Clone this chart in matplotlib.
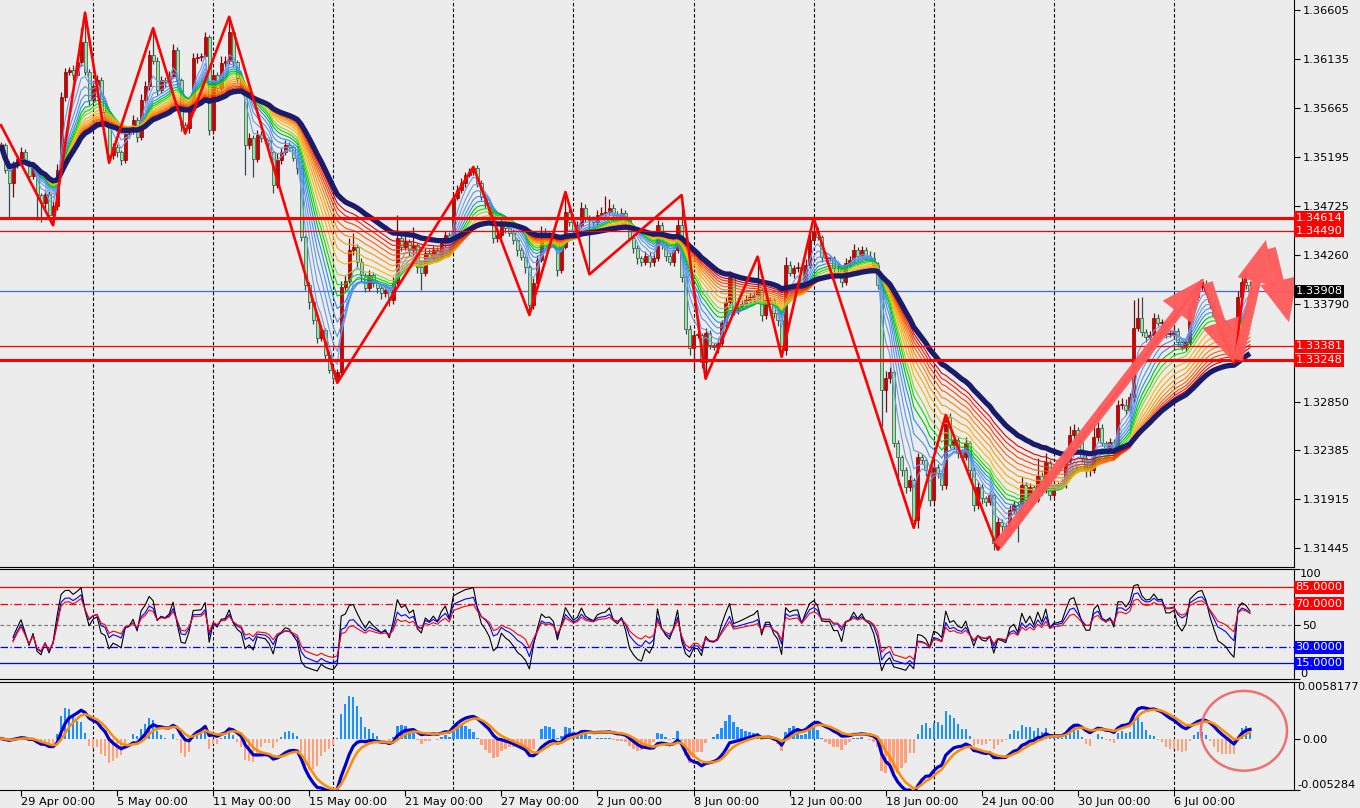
import numpy as np
import pandas as pd
import matplotlib
matplotlib.use("Agg")
import matplotlib.pyplot as plt
from matplotlib.patches import FancyArrowPatch, Ellipse

# H4 closes, 12 candles (2 days) per row
closes = [
    1.3531, 1.3507, 1.3495, 1.3512, 1.3518, 1.3524, 1.3515, 1.3501, 1.3509, 1.3483, 1.3475, 1.3484,
    1.3464, 1.3473, 1.3507, 1.3577, 1.3601, 1.3603, 1.3598, 1.3611, 1.3630, 1.3601, 1.3574, 1.3588,
    1.3593, 1.3563, 1.3558, 1.3521, 1.3529, 1.3524, 1.3517, 1.3542, 1.3545, 1.3555, 1.3539, 1.3574,
    1.3588, 1.3617, 1.3612, 1.3584, 1.3593, 1.3591, 1.3597, 1.3622, 1.3593, 1.3550, 1.3547, 1.3565,
    1.3614, 1.3615, 1.3616, 1.3635, 1.3545, 1.3598, 1.3586, 1.3610, 1.3612, 1.3639, 1.3611, 1.3595,
    1.3586, 1.3531, 1.3538, 1.3518, 1.3541, 1.3538, 1.3536, 1.3524, 1.3493, 1.3517, 1.3524, 1.3531,
    1.3529, 1.3519, 1.3509, 1.3443, 1.3397, 1.3380, 1.3363, 1.3346, 1.3354, 1.3330, 1.3315, 1.3308,
    1.3313, 1.3395, 1.3401, 1.3430, 1.3433, 1.3419, 1.3406, 1.3394, 1.3406, 1.3399, 1.3394, 1.3389,
    1.3392, 1.3382, 1.3399, 1.3442, 1.3433, 1.3438, 1.3430, 1.3435, 1.3414, 1.3408, 1.3427, 1.3423,
    1.3430, 1.3425, 1.3437, 1.3445, 1.3435, 1.3480, 1.3488, 1.3495, 1.3502, 1.3505, 1.3509, 1.3495,
    1.3481, 1.3475, 1.3466, 1.3442, 1.3445, 1.3457, 1.3451, 1.3447, 1.3440, 1.3430, 1.3424, 1.3414,
    1.3378, 1.3399, 1.3421, 1.3447, 1.3442, 1.3443, 1.3438, 1.3411, 1.3433, 1.3467, 1.3457, 1.3449,
    1.3454, 1.3471, 1.3462, 1.3459, 1.3457, 1.3464, 1.3466, 1.3467, 1.3471, 1.3464, 1.3462, 1.3466,
    1.3459, 1.3442, 1.3432, 1.3423, 1.3419, 1.3425, 1.3419, 1.3423, 1.3454, 1.3435, 1.3425, 1.3419,
    1.3430, 1.3454, 1.3404, 1.3355, 1.3336, 1.3349, 1.3349, 1.3323, 1.3351, 1.3339, 1.3337, 1.3341,
    1.3360, 1.3380, 1.3404, 1.3373, 1.3376, 1.3379, 1.3382, 1.3385, 1.3387, 1.3392, 1.3368, 1.3382,
    1.3382, 1.3370, 1.3363, 1.3334, 1.3416, 1.3408, 1.3413, 1.3414, 1.3395, 1.3416, 1.3440, 1.3449,
    1.3443, 1.3424, 1.3423, 1.3423, 1.3413, 1.3413, 1.3400, 1.3418, 1.3421, 1.3430, 1.3425, 1.3430,
    1.3425, 1.3423, 1.3416, 1.3397, 1.3296, 1.3308, 1.3313, 1.3245, 1.3232, 1.3219, 1.3203, 1.3210,
    1.3171, 1.3232, 1.3229, 1.3219, 1.3191, 1.3222, 1.3216, 1.3205, 1.3270, 1.3243, 1.3248, 1.3236,
    1.3232, 1.3245, 1.3219, 1.3186, 1.3203, 1.3192, 1.3189, 1.3195, 1.3149, 1.3169, 1.3166, 1.3161,
    1.3181, 1.3186, 1.3174, 1.3205, 1.3191, 1.3203, 1.3191, 1.3214, 1.3200, 1.3227, 1.3195, 1.3204,
    1.3205, 1.3207, 1.3227, 1.3253, 1.3258, 1.3246, 1.3231, 1.3219, 1.3219, 1.3251, 1.3260, 1.3245,
    1.3240, 1.3246, 1.3236, 1.3282, 1.3282, 1.3277, 1.3289, 1.3356, 1.3365, 1.3352, 1.3347, 1.3349,
    1.3365, 1.3360, 1.3361, 1.3350, 1.3350, 1.3353, 1.3342, 1.3337, 1.3342, 1.3375, 1.3385, 1.3395,
    1.3398, 1.3392, 1.3380, 1.3368, 1.3353, 1.3349, 1.3344, 1.3334, 1.3325, 1.3385, 1.3400, 1.3397,
    1.33908,
]
first_open = 1.3527

# wick lengths in pips above / below the body
wick_up = [
    3, 2, 3, 4, 3, 5, 3, 2, 4, 3, 2, 4,
    3, 4, 6, 5, 4, 3, 5, 4, 13, 28, 3, 4,
    5, 3, 4, 3, 4, 3, 2, 6, 4, 5, 3, 6,
    4, 5, 26, 3, 4, 3, 5, 6, 3, 2, 3, 4,
    5, 4, 3, 4, 2, 5, 3, 6, 4, 15, 3, 2,
    3, 2, 5, 3, 4, 3, 2, 3, 2, 6, 4, 5,
    3, 2, 2, 3, 2, 3, 2, 3, 4, 2, 3, 2,
    3, 6, 5, 12, 14, 3, 4, 2, 5, 3, 2, 3,
    4, 2, 5, 22, 3, 6, 3, 17, 2, 3, 5, 4,
    4, 3, 5, 4, 3, 6, 5, 4, 3, 4, 2, 3,
    2, 3, 2, 3, 5, 4, 3, 2, 3, 2, 3, 2,
    2, 4, 5, 6, 4, 5, 3, 2, 5, 19, 3, 4,
    4, 5, 3, 2, 4, 5, 6, 15, 8, 3, 4, 5,
    3, 2, 2, 3, 2, 4, 3, 4, 5, 3, 2, 3,
    4, 6, 29, 2, 3, 4, 3, 2, 5, 3, 2, 4,
    3, 5, 6, 3, 4, 3, 5, 4, 3, 32, 2, 4,
    3, 2, 2, 3, 8, 4, 3, 5, 2, 6, 5, 12,
    3, 2, 4, 3, 2, 4, 2, 5, 4, 6, 3, 4,
    3, 4, 5, 3, 2, 6, 5, 2, 3, 2, 3, 5,
    2, 4, 3, 2, 2, 6, 3, 2, 2, 4, 5, 3,
    3, 6, 2, 3, 5, 3, 2, 4, 2, 5, 3, 2,
    5, 4, 3, 8, 3, 4, 2, 17, 3, 9, 2, 4,
    3, 4, 6, 9, 5, 3, 2, 3, 2, 16, 5, 3,
    2, 4, 3, 4, 6, 5, 4, 26, 19, 20, 3, 4,
    5, 4, 3, 2, 4, 5, 3, 2, 4, 6, 5, 4,
    3, 4, 2, 3, 2, 3, 2, 4, 3, 6, 8, 10,
    4,
]
wick_dn = [
    4, 3, 33, 14, 3, 4, 3, 5, 3, 24, 18, 4,
    5, 10, 4, 3, 4, 3, 5, 3, 4, 3, 5, 3,
    4, 3, 5, 7, 3, 4, 5, 3, 4, 3, 5, 3,
    3, 4, 3, 5, 3, 4, 3, 2, 5, 6, 5, 4,
    3, 4, 3, 2, 4, 3, 5, 3, 4, 3, 5, 4,
    3, 29, 4, 18, 3, 4, 3, 4, 8, 3, 4, 3,
    4, 3, 6, 4, 5, 6, 4, 5, 3, 4, 3, 4,
    5, 4, 3, 2, 4, 5, 6, 4, 3, 4, 5, 6,
    4, 5, 3, 2, 4, 3, 5, 4, 6, 16, 3, 4,
    3, 4, 3, 4, 5, 3, 2, 3, 4, 2, 3, 4,
    3, 4, 3, 5, 4, 3, 4, 3, 4, 5, 3, 6,
    10, 4, 3, 2, 4, 3, 5, 6, 3, 2, 4, 3,
    4, 3, 5, 52, 4, 3, 2, 4, 3, 5, 4, 3,
    4, 3, 5, 6, 4, 3, 5, 4, 3, 4, 5, 3,
    4, 3, 4, 5, 6, 21, 3, 6, 16, 4, 3, 5,
    3, 4, 3, 5, 4, 3, 4, 3, 5, 3, 6, 4,
    3, 5, 6, 6, 4, 3, 5, 4, 3, 4, 3, 2,
    3, 5, 4, 3, 6, 4, 5, 3, 4, 3, 4, 3,
    4, 3, 5, 4, 34, 21, 5, 4, 27, 5, 6, 4,
    7, 7, 4, 5, 6, 3, 4, 5, 4, 3, 4, 5,
    4, 3, 5, 6, 4, 5, 4, 3, 6, 6, 5, 4,
    5, 4, 24, 3, 5, 4, 3, 2, 5, 3, 4, 3,
    4, 3, 5, 3, 4, 5, 4, 6, 5, 3, 4, 3,
    4, 3, 5, 3, 4, 5, 3, 4, 3, 4, 5, 3,
    4, 3, 5, 4, 3, 5, 4, 3, 4, 3, 2, 3,
    3, 4, 5, 3, 4, 5, 3, 4, 3, 2, 3, 4,
    3,
]

# zigzag swing points (candle index, price)
zz_idx = [0, 13, 21, 27, 38, 46, 57, 84, 118, 132, 141, 147, 170, 176, 189,
          195, 203, 228, 236, 249, 300, 308, 311]
zz_price = [1.3550, 1.3454, 1.3658, 1.3514, 1.3643, 1.3542, 1.3654, 1.3303, 1.3510,
            1.3368, 1.3486, 1.3407, 1.3483, 1.3307, 1.3424, 1.3328, 1.3461, 1.3164,
            1.3272, 1.3143, 1.3401, 1.3322, 1.3410]

sr_levels = [1.34614, 1.34490, 1.33381, 1.33248]
sr_labels = ["1.34614", "1.34490", "1.33381", "1.33248"]
sr_thick = [True, False, False, True]
last_price = 1.33908

price_ticks = [1.36605, 1.36135, 1.35665, 1.35195, 1.34725, 1.34260, 1.33790,
               1.32850, 1.32385, 1.31915, 1.31445]
date_idx = [5, 29, 53, 77, 101, 125, 149, 173, 197, 221, 245, 269, 293]
date_labels = ["29 Apr 00:00", "5 May 00:00", "11 May 00:00", "15 May 00:00",
               "21 May 00:00", "27 May 00:00", "2 Jun 00:00", "8 Jun 00:00",
               "12 Jun 00:00", "18 Jun 00:00", "24 Jun 00:00", "30 Jun 00:00",
               "6 Jul 00:00"]
grid_idx = [23, 53, 83, 113, 143, 173, 203, 233, 263, 293]

# hand drawn arrows: (start idx, start price, end idx, end price)
arrows = [(249, 1.3147, 300.5, 1.3403), (301.5, 1.3399, 308, 1.3322),
          (309, 1.3325, 316, 1.3440), (317.25, 1.3432, 321.75, 1.3361)]

ribbon_periods = [4, 6, 8, 10, 12, 14, 16, 18, 21, 24, 27, 30, 33, 36, 39, 42]
ribbon_colors = ['#6A9BE8', '#6A9BE8', '#5A96EA', '#4A90E8', '#1E90FF', '#00C000',
                 '#00E000', '#9ACD32', '#FFB400', '#FFA500', '#FF9800', '#FF8000',
                 '#FF6000', '#FF4000', '#FF2000', '#E00000']
slow_period = 48

rsi_periods = [6, 10, 14]
rsi_colors = ['black', '#0000FF', '#FF0000']

macd_max = 0.0058177
macd_min = -0.005284

BG = '#ECECEC'
FS = 8.2

close = np.array(closes)
n = len(close)
idx = np.arange(n)
open_ = np.r_[first_open, close[:-1]]
high = np.maximum(open_, close) + np.array(wick_up) * 0.0001
low = np.minimum(open_, close) - np.array(wick_dn) * 0.0001
up = close >= open_

s = pd.Series(close)
def ema(x, span):
    return x.ewm(span=span, adjust=True).mean()

def rsi(x, period):
    d = x.diff()
    g = d.clip(lower=0).ewm(alpha=1.0 / period, adjust=True).mean()
    l = (-d.clip(upper=0)).ewm(alpha=1.0 / period, adjust=True).mean()
    r = 100 - 100 / (1 + g / l)
    r[:3] = np.nan
    return r

macd = ema(s, 7) - ema(s, 15)
signal = ema(macd, 4)
hist = 3.2 * (macd - signal)

fig = plt.figure(figsize=(13.6, 8.08), dpi=100, facecolor=BG)
W, H = 1360, 808
def add_panel(top, bottom):
    a = fig.add_axes([0, 1 - bottom / H, 1294 / W, (bottom - top) / H])
    a.set_facecolor(BG)
    a.set_xlim(-0.25, 323)
    a.spines['left'].set_visible(False)
    a.yaxis.tick_right()
    a.tick_params(axis='y', direction='out', length=4, width=0.8, pad=2, labelsize=FS)
    a.tick_params(axis='x', bottom=False, labelbottom=False)
    for g in grid_idx:
        a.axvline(g, color='black', lw=0.8, ls=(0, (3, 2)), zorder=0.5)
    return a

ax = add_panel(0, 567)
ax_rsi = add_panel(569, 679)
ax_macd = add_panel(682, 790)
ax.spines['top'].set_visible(False)

# main price panel
ax.set_ylim(1.31263, 1.36701)
ax.set_yticks(price_ticks)
ax.set_yticklabels(["%.5f" % p for p in price_ticks])

ax.vlines(idx[up], low[up], high[up], color='#6B1010', lw=0.9, zorder=2)
ax.vlines(idx[~up], low[~up], high[~up], color='#2F4F4F', lw=0.9, zorder=2)
body_h = np.maximum(np.abs(close - open_), 0.00004)
body_b = np.minimum(open_, close)
ax.bar(idx[up], body_h[up], bottom=body_b[up], width=0.75, color='#D00000',
       edgecolor='#8B0000', linewidth=0.5, zorder=3)
ax.bar(idx[~up], body_h[~up], bottom=body_b[~up], width=0.75, color='#9BE39B',
       edgecolor='#2F4F4F', linewidth=0.5, zorder=3)

for p, c in zip(ribbon_periods, ribbon_colors):
    ax.plot(idx, ema(s, p), color=c, lw=0.8, zorder=4)
ax.plot(idx, ema(s, slow_period), color='#1B1B6B', lw=3.8, zorder=5,
        solid_capstyle='butt')

ax.plot(zz_idx, zz_price, color='#FF0000', lw=1.9, zorder=6)

for lvl, thick in zip(sr_levels, sr_thick):
    ax.axhline(lvl, color='#FF0000', lw=2.2 if thick else 0.9, zorder=6)
ax.axhline(last_price, color='#4169E1', lw=0.9, zorder=1.5)

def value_box(a, y, text, fc):
    a.text(1.0012, y, text, transform=a.get_yaxis_transform(), ha='left',
           va='center', fontsize=FS, color='white', clip_on=False, zorder=10,
           bbox=dict(boxstyle='square,pad=0.13', fc=fc, ec='none'))

for lvl, lab in zip(sr_levels, sr_labels):
    value_box(ax, lvl, lab, '#FF0000')
value_box(ax, last_price, "1.33908", 'black')

for x0, y0, x1, y1 in arrows:
    ax.add_patch(FancyArrowPatch((x0, y0), (x1, y1),
                 arrowstyle='simple,head_length=1.4,head_width=1.25,tail_width=0.32',
                 mutation_scale=22, color='#FF5A5A', alpha=0.95, lw=0,
                 shrinkA=0, shrinkB=0, zorder=8))

# RSI panel
ax_rsi.set_ylim(0.6, 101.9)
ax_rsi.set_yticks([0.6, 50, 101.9])
ax_rsi.set_yticklabels(['', '50', ''])
ax_rsi.text(1.0045, 101.9, '100', transform=ax_rsi.get_yaxis_transform(),
            ha='left', va='top', fontsize=FS, clip_on=False)
ax_rsi.text(1.0045, 0.6, '0', transform=ax_rsi.get_yaxis_transform(),
            ha='left', va='bottom', fontsize=FS, clip_on=False)
ax_rsi.axhline(85, color='#FF0000', lw=0.9, zorder=1)
ax_rsi.axhline(70, color='#FF0000', lw=0.9, ls=(0, (6, 2, 1, 2)), zorder=1)
ax_rsi.axhline(50, color='#808080', lw=0.9, ls=(0, (3, 2)), zorder=1)
ax_rsi.axhline(30, color='#0000FF', lw=0.9, ls=(0, (6, 2, 1, 2)), zorder=1)
ax_rsi.axhline(15, color='#0000FF', lw=0.9, zorder=1)
for p, c in zip(rsi_periods, rsi_colors):
    ax_rsi.plot(idx, rsi(s, p), color=c, lw=0.8, zorder=3)
value_box(ax_rsi, 85, "85.0000", '#FF0000')
value_box(ax_rsi, 70, "70.0000", '#FF0000')
value_box(ax_rsi, 30, "30.0000", '#0000FF')
value_box(ax_rsi, 15, "15.0000", '#0000FF')

# MACD panel
ax_macd.set_ylim(macd_min, macd_max)
ax_macd.set_yticks([macd_min, 0.0, macd_max])
ax_macd.set_yticklabels(['', '0.00', ''])
ax_macd.text(1.0025, macd_max, '0.0058177', transform=ax_macd.get_yaxis_transform(),
             ha='left', va='top', fontsize=FS, clip_on=False)
ax_macd.text(1.0025, macd_min, '-0.005284', transform=ax_macd.get_yaxis_transform(),
             ha='left', va='bottom', fontsize=FS, clip_on=False)
hv = hist.values
ax_macd.bar(idx, hv, width=0.6, color=np.where(hv >= 0, '#1E90FF', '#FFA07A'), zorder=2)
ax_macd.plot(idx, macd, color='#0000CD', lw=2.3, zorder=3)
ax_macd.plot(idx, signal, color='#FF8C00', lw=1.8, zorder=4)
ax_macd.add_patch(Ellipse((310.5, 0.0008), 21.5, 0.0082, fill=False,
                          ec='#F07070', lw=1.8, zorder=6))

ax_macd.tick_params(axis='x', bottom=True, labelbottom=True, direction='out',
                    length=4, width=0.8, pad=1, labelsize=FS)
ax_macd.set_xticks(date_idx)
ax_macd.set_xticklabels(date_labels, ha='left')

fig.savefig("out.png", dpi=100, facecolor=BG)
